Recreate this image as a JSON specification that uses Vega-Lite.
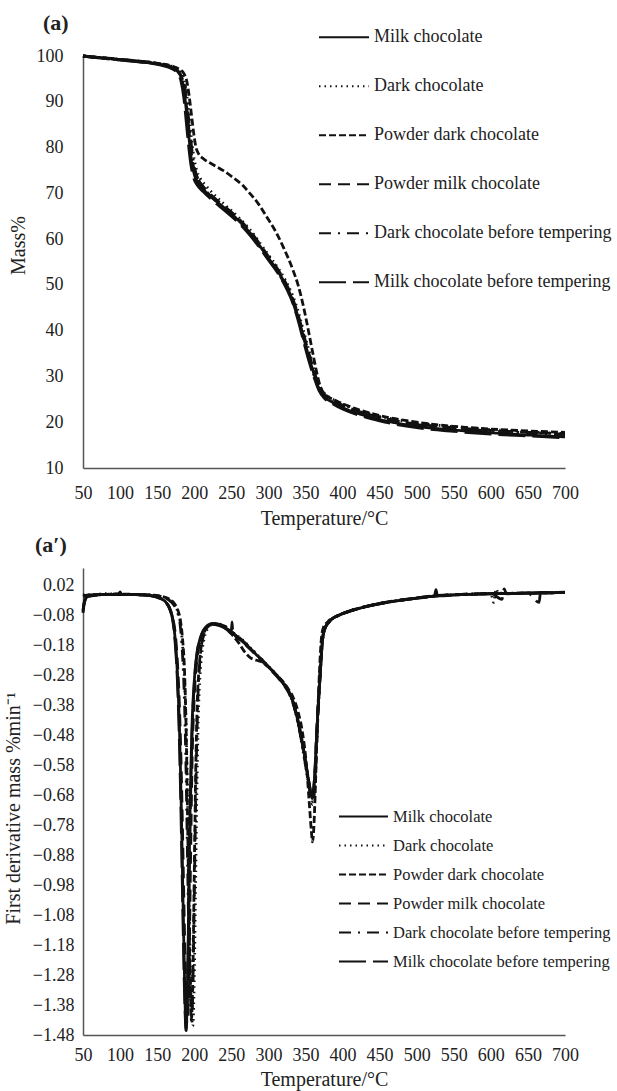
{
"$schema":"https://vega.github.io/schema/vega-lite/v6.json",
"autosize":{"type":"none"},
"padding":{"left":83,"top":56,"right":534,"bottom":1035},
"background":"white",
"bounds":"flush",
"spacing":100,
"config":{
"view":{"stroke":null},
"font":"Liberation Serif",
"axis":{"grid":false,"ticks":false,"tickSize":0,"domainColor":"#555","domainWidth":1.5,"labelFont":"Liberation Serif","labelFontSize":18,"labelColor":"#222","titleFont":"Liberation Serif","titleFontWeight":"normal","titleFontSize":20,"titleColor":"#222","labelFlush":false,"labelOverlap":false},
"legend":{"labelFont":"Liberation Serif","labelColor":"#222","labelLimit":0,"symbolType":"stroke","symbolStrokeColor":"#111","symbolStrokeWidth":2,"padding":0,"rowPadding":0,"title":null},
"title":{"anchor":"start","frame":"group","font":"Liberation Serif","fontSize":22,"fontWeight":"bold","color":"#222","baseline":"middle"}
},
"resolve":{"legend":{"strokeDash":"independent"}},
"datasets":{
"m":[
{"s":"Milk chocolate","t":50,"v":100},{"s":"Milk chocolate","t":70,"v":99.7},{"s":"Milk chocolate","t":100,"v":99.2},{"s":"Milk chocolate","t":130,"v":98.7},{"s":"Milk chocolate","t":155,"v":98.1},{"s":"Milk chocolate","t":170,"v":97.4},{"s":"Milk chocolate","t":178,"v":96.5},{"s":"Milk chocolate","t":183,"v":95.0},{"s":"Milk chocolate","t":187,"v":91.5},{"s":"Milk chocolate","t":190,"v":87.0},{"s":"Milk chocolate","t":193,"v":82.0},{"s":"Milk chocolate","t":196,"v":77.5},{"s":"Milk chocolate","t":200,"v":74.2},{"s":"Milk chocolate","t":205,"v":72.4},{"s":"Milk chocolate","t":212,"v":70.9},{"s":"Milk chocolate","t":225,"v":68.9},{"s":"Milk chocolate","t":240,"v":66.9},{"s":"Milk chocolate","t":255,"v":64.8},{"s":"Milk chocolate","t":275,"v":61.4},{"s":"Milk chocolate","t":298,"v":56.3},{"s":"Milk chocolate","t":315,"v":52.4},{"s":"Milk chocolate","t":325,"v":49.5},{"s":"Milk chocolate","t":333,"v":46.5},{"s":"Milk chocolate","t":340,"v":43.0},{"s":"Milk chocolate","t":347,"v":38.8},{"s":"Milk chocolate","t":355,"v":34.0},{"s":"Milk chocolate","t":362,"v":30.3},{"s":"Milk chocolate","t":368,"v":27.4},{"s":"Milk chocolate","t":375,"v":25.6},{"s":"Milk chocolate","t":385,"v":24.5},{"s":"Milk chocolate","t":400,"v":23.2},{"s":"Milk chocolate","t":425,"v":21.7},{"s":"Milk chocolate","t":450,"v":20.6},{"s":"Milk chocolate","t":500,"v":19.1},{"s":"Milk chocolate","t":550,"v":18.3},{"s":"Milk chocolate","t":600,"v":17.7},{"s":"Milk chocolate","t":650,"v":17.2},{"s":"Milk chocolate","t":700,"v":16.8},
{"s":"Dark chocolate","t":50,"v":100},{"s":"Dark chocolate","t":70,"v":99.7},{"s":"Dark chocolate","t":100,"v":99.3},{"s":"Dark chocolate","t":130,"v":98.8},{"s":"Dark chocolate","t":155,"v":98.3},{"s":"Dark chocolate","t":170,"v":97.7},{"s":"Dark chocolate","t":181,"v":96.7},{"s":"Dark chocolate","t":186,"v":95.0},{"s":"Dark chocolate","t":190,"v":91.5},{"s":"Dark chocolate","t":193,"v":87.0},{"s":"Dark chocolate","t":196,"v":82.5},{"s":"Dark chocolate","t":199,"v":78.5},{"s":"Dark chocolate","t":203,"v":75.2},{"s":"Dark chocolate","t":208,"v":73.3},{"s":"Dark chocolate","t":215,"v":71.8},{"s":"Dark chocolate","t":225,"v":70.0},{"s":"Dark chocolate","t":240,"v":67.7},{"s":"Dark chocolate","t":255,"v":65.5},{"s":"Dark chocolate","t":275,"v":62.1},{"s":"Dark chocolate","t":298,"v":57.0},{"s":"Dark chocolate","t":315,"v":53.2},{"s":"Dark chocolate","t":325,"v":50.4},{"s":"Dark chocolate","t":333,"v":47.6},{"s":"Dark chocolate","t":340,"v":44.3},{"s":"Dark chocolate","t":347,"v":40.2},{"s":"Dark chocolate","t":355,"v":35.5},{"s":"Dark chocolate","t":362,"v":31.5},{"s":"Dark chocolate","t":368,"v":28.3},{"s":"Dark chocolate","t":375,"v":26.4},{"s":"Dark chocolate","t":385,"v":25.2},{"s":"Dark chocolate","t":400,"v":23.9},{"s":"Dark chocolate","t":425,"v":22.4},{"s":"Dark chocolate","t":450,"v":21.3},{"s":"Dark chocolate","t":500,"v":19.9},{"s":"Dark chocolate","t":550,"v":19.0},{"s":"Dark chocolate","t":600,"v":18.4},{"s":"Dark chocolate","t":650,"v":17.9},{"s":"Dark chocolate","t":700,"v":17.5},
{"s":"Powder dark chocolate","t":50,"v":100},{"s":"Powder dark chocolate","t":70,"v":99.7},{"s":"Powder dark chocolate","t":100,"v":99.2},{"s":"Powder dark chocolate","t":130,"v":98.8},{"s":"Powder dark chocolate","t":155,"v":98.3},{"s":"Powder dark chocolate","t":170,"v":97.8},{"s":"Powder dark chocolate","t":180,"v":97.1},{"s":"Powder dark chocolate","t":186,"v":96.2},{"s":"Powder dark chocolate","t":190,"v":94.5},{"s":"Powder dark chocolate","t":193,"v":91.5},{"s":"Powder dark chocolate","t":196,"v":87.5},{"s":"Powder dark chocolate","t":199,"v":83.5},{"s":"Powder dark chocolate","t":202,"v":80.3},{"s":"Powder dark chocolate","t":206,"v":78.6},{"s":"Powder dark chocolate","t":212,"v":77.6},{"s":"Powder dark chocolate","t":225,"v":76.3},{"s":"Powder dark chocolate","t":240,"v":74.9},{"s":"Powder dark chocolate","t":252,"v":73.5},{"s":"Powder dark chocolate","t":265,"v":71.8},{"s":"Powder dark chocolate","t":275,"v":70.0},{"s":"Powder dark chocolate","t":287,"v":67.6},{"s":"Powder dark chocolate","t":298,"v":64.8},{"s":"Powder dark chocolate","t":310,"v":61.6},{"s":"Powder dark chocolate","t":320,"v":58.3},{"s":"Powder dark chocolate","t":333,"v":53.3},{"s":"Powder dark chocolate","t":340,"v":50.0},{"s":"Powder dark chocolate","t":347,"v":45.5},{"s":"Powder dark chocolate","t":354,"v":40.0},{"s":"Powder dark chocolate","t":360,"v":35.0},{"s":"Powder dark chocolate","t":365,"v":31.0},{"s":"Powder dark chocolate","t":370,"v":27.8},{"s":"Powder dark chocolate","t":377,"v":26.0},{"s":"Powder dark chocolate","t":390,"v":24.8},{"s":"Powder dark chocolate","t":410,"v":23.4},{"s":"Powder dark chocolate","t":444,"v":21.7},{"s":"Powder dark chocolate","t":500,"v":20.0},{"s":"Powder dark chocolate","t":550,"v":19.1},{"s":"Powder dark chocolate","t":600,"v":18.5},{"s":"Powder dark chocolate","t":650,"v":18.1},{"s":"Powder dark chocolate","t":700,"v":17.8},
{"s":"Powder milk chocolate","t":50,"v":100},{"s":"Powder milk chocolate","t":70,"v":99.7},{"s":"Powder milk chocolate","t":100,"v":99.3},{"s":"Powder milk chocolate","t":130,"v":98.8},{"s":"Powder milk chocolate","t":155,"v":98.2},{"s":"Powder milk chocolate","t":170,"v":97.5},{"s":"Powder milk chocolate","t":179,"v":96.6},{"s":"Powder milk chocolate","t":184,"v":95.0},{"s":"Powder milk chocolate","t":188,"v":91.5},{"s":"Powder milk chocolate","t":191,"v":87.0},{"s":"Powder milk chocolate","t":194,"v":82.0},{"s":"Powder milk chocolate","t":197,"v":77.7},{"s":"Powder milk chocolate","t":201,"v":74.5},{"s":"Powder milk chocolate","t":206,"v":72.8},{"s":"Powder milk chocolate","t":213,"v":71.3},{"s":"Powder milk chocolate","t":225,"v":69.3},{"s":"Powder milk chocolate","t":240,"v":67.3},{"s":"Powder milk chocolate","t":255,"v":65.2},{"s":"Powder milk chocolate","t":275,"v":61.8},{"s":"Powder milk chocolate","t":298,"v":56.7},{"s":"Powder milk chocolate","t":315,"v":52.8},{"s":"Powder milk chocolate","t":325,"v":49.9},{"s":"Powder milk chocolate","t":333,"v":46.9},{"s":"Powder milk chocolate","t":340,"v":43.5},{"s":"Powder milk chocolate","t":347,"v":39.5},{"s":"Powder milk chocolate","t":355,"v":34.8},{"s":"Powder milk chocolate","t":362,"v":31.0},{"s":"Powder milk chocolate","t":368,"v":28.0},{"s":"Powder milk chocolate","t":375,"v":26.2},{"s":"Powder milk chocolate","t":385,"v":25.0},{"s":"Powder milk chocolate","t":400,"v":23.7},{"s":"Powder milk chocolate","t":425,"v":22.2},{"s":"Powder milk chocolate","t":450,"v":21.1},{"s":"Powder milk chocolate","t":500,"v":19.6},{"s":"Powder milk chocolate","t":550,"v":18.8},{"s":"Powder milk chocolate","t":600,"v":18.2},{"s":"Powder milk chocolate","t":650,"v":17.8},{"s":"Powder milk chocolate","t":700,"v":17.4},
{"s":"Dark chocolate before tempering","t":50,"v":100},{"s":"Dark chocolate before tempering","t":70,"v":99.6},{"s":"Dark chocolate before tempering","t":100,"v":99.2},{"s":"Dark chocolate before tempering","t":130,"v":98.7},{"s":"Dark chocolate before tempering","t":155,"v":98.1},{"s":"Dark chocolate before tempering","t":170,"v":97.5},{"s":"Dark chocolate before tempering","t":180,"v":96.6},{"s":"Dark chocolate before tempering","t":185,"v":95.0},{"s":"Dark chocolate before tempering","t":189,"v":91.5},{"s":"Dark chocolate before tempering","t":192,"v":87.0},{"s":"Dark chocolate before tempering","t":195,"v":82.3},{"s":"Dark chocolate before tempering","t":198,"v":78.0},{"s":"Dark chocolate before tempering","t":202,"v":74.6},{"s":"Dark chocolate before tempering","t":207,"v":72.5},{"s":"Dark chocolate before tempering","t":214,"v":70.9},{"s":"Dark chocolate before tempering","t":225,"v":69.0},{"s":"Dark chocolate before tempering","t":240,"v":66.8},{"s":"Dark chocolate before tempering","t":255,"v":64.6},{"s":"Dark chocolate before tempering","t":275,"v":61.2},{"s":"Dark chocolate before tempering","t":298,"v":56.1},{"s":"Dark chocolate before tempering","t":315,"v":52.2},{"s":"Dark chocolate before tempering","t":325,"v":49.2},{"s":"Dark chocolate before tempering","t":333,"v":46.2},{"s":"Dark chocolate before tempering","t":340,"v":42.7},{"s":"Dark chocolate before tempering","t":347,"v":38.5},{"s":"Dark chocolate before tempering","t":355,"v":33.7},{"s":"Dark chocolate before tempering","t":362,"v":30.0},{"s":"Dark chocolate before tempering","t":368,"v":27.3},{"s":"Dark chocolate before tempering","t":375,"v":25.7},{"s":"Dark chocolate before tempering","t":385,"v":24.7},{"s":"Dark chocolate before tempering","t":400,"v":23.5},{"s":"Dark chocolate before tempering","t":425,"v":22.0},{"s":"Dark chocolate before tempering","t":450,"v":21.0},{"s":"Dark chocolate before tempering","t":500,"v":19.5},{"s":"Dark chocolate before tempering","t":550,"v":18.7},{"s":"Dark chocolate before tempering","t":600,"v":18.1},{"s":"Dark chocolate before tempering","t":650,"v":17.7},{"s":"Dark chocolate before tempering","t":700,"v":17.3},
{"s":"Milk chocolate before tempering","t":50,"v":100},{"s":"Milk chocolate before tempering","t":70,"v":99.6},{"s":"Milk chocolate before tempering","t":100,"v":99.1},{"s":"Milk chocolate before tempering","t":130,"v":98.6},{"s":"Milk chocolate before tempering","t":155,"v":98.0},{"s":"Milk chocolate before tempering","t":170,"v":97.2},{"s":"Milk chocolate before tempering","t":177,"v":96.3},{"s":"Milk chocolate before tempering","t":182,"v":94.6},{"s":"Milk chocolate before tempering","t":186,"v":90.8},{"s":"Milk chocolate before tempering","t":189,"v":86.0},{"s":"Milk chocolate before tempering","t":192,"v":81.0},{"s":"Milk chocolate before tempering","t":195,"v":76.8},{"s":"Milk chocolate before tempering","t":199,"v":73.5},{"s":"Milk chocolate before tempering","t":204,"v":71.8},{"s":"Milk chocolate before tempering","t":212,"v":70.4},{"s":"Milk chocolate before tempering","t":225,"v":68.4},{"s":"Milk chocolate before tempering","t":240,"v":66.4},{"s":"Milk chocolate before tempering","t":255,"v":64.3},{"s":"Milk chocolate before tempering","t":275,"v":60.9},{"s":"Milk chocolate before tempering","t":298,"v":55.9},{"s":"Milk chocolate before tempering","t":315,"v":52.0},{"s":"Milk chocolate before tempering","t":325,"v":49.0},{"s":"Milk chocolate before tempering","t":333,"v":46.0},{"s":"Milk chocolate before tempering","t":340,"v":42.3},{"s":"Milk chocolate before tempering","t":347,"v":38.0},{"s":"Milk chocolate before tempering","t":355,"v":33.2},{"s":"Milk chocolate before tempering","t":362,"v":29.6},{"s":"Milk chocolate before tempering","t":368,"v":27.0},{"s":"Milk chocolate before tempering","t":375,"v":25.3},{"s":"Milk chocolate before tempering","t":385,"v":24.2},{"s":"Milk chocolate before tempering","t":400,"v":22.9},{"s":"Milk chocolate before tempering","t":425,"v":21.4},{"s":"Milk chocolate before tempering","t":450,"v":20.3},{"s":"Milk chocolate before tempering","t":500,"v":18.8},{"s":"Milk chocolate before tempering","t":550,"v":18.0},{"s":"Milk chocolate before tempering","t":600,"v":17.4},{"s":"Milk chocolate before tempering","t":650,"v":17.0},{"s":"Milk chocolate before tempering","t":700,"v":16.6}
],
"d":[
{"s":"Milk chocolate","t":50,"v":-0.065},{"s":"Milk chocolate","t":52,"v":-0.03},{"s":"Milk chocolate","t":56,"v":-0.015},{"s":"Milk chocolate","t":70,"v":-0.01},{"s":"Milk chocolate","t":90,"v":-0.008},{"s":"Milk chocolate","t":110,"v":-0.008},{"s":"Milk chocolate","t":130,"v":-0.01},{"s":"Milk chocolate","t":145,"v":-0.014},{"s":"Milk chocolate","t":155,"v":-0.022},{"s":"Milk chocolate","t":162,"v":-0.035},{"s":"Milk chocolate","t":167,"v":-0.055},{"s":"Milk chocolate","t":171,"v":-0.09},{"s":"Milk chocolate","t":174,"v":-0.15},{"s":"Milk chocolate","t":177,"v":-0.26},{"s":"Milk chocolate","t":180,"v":-0.45},{"s":"Milk chocolate","t":183,"v":-0.78},{"s":"Milk chocolate","t":185,"v":-1.05},{"s":"Milk chocolate","t":187,"v":-1.3},{"s":"Milk chocolate","t":189,"v":-1.465},{"s":"Milk chocolate","t":191,"v":-1.3},{"s":"Milk chocolate","t":193,"v":-0.95},{"s":"Milk chocolate","t":195,"v":-0.65},{"s":"Milk chocolate","t":197,"v":-0.45},{"s":"Milk chocolate","t":200,"v":-0.3},{"s":"Milk chocolate","t":204,"v":-0.2},{"s":"Milk chocolate","t":209,"v":-0.15},{"s":"Milk chocolate","t":216,"v":-0.118},{"s":"Milk chocolate","t":225,"v":-0.107},{"s":"Milk chocolate","t":238,"v":-0.115},{"s":"Milk chocolate","t":252,"v":-0.137},{"s":"Milk chocolate","t":265,"v":-0.165},{"s":"Milk chocolate","t":279,"v":-0.198},{"s":"Milk chocolate","t":290,"v":-0.225},{"s":"Milk chocolate","t":300,"v":-0.25},{"s":"Milk chocolate","t":310,"v":-0.275},{"s":"Milk chocolate","t":320,"v":-0.305},{"s":"Milk chocolate","t":327,"v":-0.33},{"s":"Milk chocolate","t":333,"v":-0.365},{"s":"Milk chocolate","t":340,"v":-0.43},{"s":"Milk chocolate","t":347,"v":-0.52},{"s":"Milk chocolate","t":353,"v":-0.61},{"s":"Milk chocolate","t":357,"v":-0.665},{"s":"Milk chocolate","t":359,"v":-0.68},{"s":"Milk chocolate","t":361,"v":-0.66},{"s":"Milk chocolate","t":363,"v":-0.59},{"s":"Milk chocolate","t":365,"v":-0.48},{"s":"Milk chocolate","t":367,"v":-0.39},{"s":"Milk chocolate","t":369,"v":-0.31},{"s":"Milk chocolate","t":371,"v":-0.23},{"s":"Milk chocolate","t":373,"v":-0.16},{"s":"Milk chocolate","t":376,"v":-0.125},{"s":"Milk chocolate","t":383,"v":-0.097},{"s":"Milk chocolate","t":395,"v":-0.078},{"s":"Milk chocolate","t":410,"v":-0.064},{"s":"Milk chocolate","t":430,"v":-0.05},{"s":"Milk chocolate","t":455,"v":-0.037},{"s":"Milk chocolate","t":490,"v":-0.024},{"s":"Milk chocolate","t":527,"v":-0.013},{"s":"Milk chocolate","t":560,"v":-0.009},{"s":"Milk chocolate","t":600,"v":-0.006},{"s":"Milk chocolate","t":650,"v":-0.004},{"s":"Milk chocolate","t":700,"v":-0.002},
{"s":"Dark chocolate","t":50,"v":-0.01},{"s":"Dark chocolate","t":60,"v":-0.01},{"s":"Dark chocolate","t":80,"v":-0.006},{"s":"Dark chocolate","t":100,"v":-0.008},{"s":"Dark chocolate","t":120,"v":-0.008},{"s":"Dark chocolate","t":140,"v":-0.01},{"s":"Dark chocolate","t":155,"v":-0.015},{"s":"Dark chocolate","t":165,"v":-0.025},{"s":"Dark chocolate","t":172,"v":-0.04},{"s":"Dark chocolate","t":177,"v":-0.06},{"s":"Dark chocolate","t":181,"v":-0.1},{"s":"Dark chocolate","t":184,"v":-0.17},{"s":"Dark chocolate","t":187,"v":-0.3},{"s":"Dark chocolate","t":190,"v":-0.55},{"s":"Dark chocolate","t":192,"v":-0.85},{"s":"Dark chocolate","t":194,"v":-1.15},{"s":"Dark chocolate","t":196,"v":-1.38},{"s":"Dark chocolate","t":198,"v":-1.45},{"s":"Dark chocolate","t":200,"v":-1.3},{"s":"Dark chocolate","t":202,"v":-0.95},{"s":"Dark chocolate","t":204,"v":-0.6},{"s":"Dark chocolate","t":206,"v":-0.38},{"s":"Dark chocolate","t":209,"v":-0.24},{"s":"Dark chocolate","t":213,"v":-0.16},{"s":"Dark chocolate","t":219,"v":-0.12},{"s":"Dark chocolate","t":227,"v":-0.105},{"s":"Dark chocolate","t":240,"v":-0.112},{"s":"Dark chocolate","t":252,"v":-0.135},{"s":"Dark chocolate","t":265,"v":-0.16},{"s":"Dark chocolate","t":279,"v":-0.195},{"s":"Dark chocolate","t":290,"v":-0.222},{"s":"Dark chocolate","t":300,"v":-0.248},{"s":"Dark chocolate","t":310,"v":-0.274},{"s":"Dark chocolate","t":320,"v":-0.303},{"s":"Dark chocolate","t":327,"v":-0.33},{"s":"Dark chocolate","t":333,"v":-0.37},{"s":"Dark chocolate","t":340,"v":-0.44},{"s":"Dark chocolate","t":347,"v":-0.535},{"s":"Dark chocolate","t":353,"v":-0.625},{"s":"Dark chocolate","t":357,"v":-0.68},{"s":"Dark chocolate","t":360,"v":-0.7},{"s":"Dark chocolate","t":362,"v":-0.67},{"s":"Dark chocolate","t":364,"v":-0.58},{"s":"Dark chocolate","t":366,"v":-0.46},{"s":"Dark chocolate","t":368,"v":-0.36},{"s":"Dark chocolate","t":370,"v":-0.27},{"s":"Dark chocolate","t":372,"v":-0.19},{"s":"Dark chocolate","t":375,"v":-0.13},{"s":"Dark chocolate","t":383,"v":-0.098},{"s":"Dark chocolate","t":395,"v":-0.078},{"s":"Dark chocolate","t":410,"v":-0.063},{"s":"Dark chocolate","t":430,"v":-0.05},{"s":"Dark chocolate","t":455,"v":-0.036},{"s":"Dark chocolate","t":490,"v":-0.023},{"s":"Dark chocolate","t":527,"v":-0.013},{"s":"Dark chocolate","t":560,"v":-0.008},{"s":"Dark chocolate","t":600,"v":-0.005},{"s":"Dark chocolate","t":604,"v":-0.035},{"s":"Dark chocolate","t":607,"v":0.01},{"s":"Dark chocolate","t":610,"v":-0.004},{"s":"Dark chocolate","t":650,"v":-0.004},{"s":"Dark chocolate","t":700,"v":-0.001},
{"s":"Powder dark chocolate","t":50,"v":-0.012},{"s":"Powder dark chocolate","t":60,"v":-0.01},{"s":"Powder dark chocolate","t":80,"v":-0.008},{"s":"Powder dark chocolate","t":100,"v":-0.007},{"s":"Powder dark chocolate","t":120,"v":-0.008},{"s":"Powder dark chocolate","t":140,"v":-0.01},{"s":"Powder dark chocolate","t":155,"v":-0.014},{"s":"Powder dark chocolate","t":165,"v":-0.022},{"s":"Powder dark chocolate","t":172,"v":-0.035},{"s":"Powder dark chocolate","t":177,"v":-0.055},{"s":"Powder dark chocolate","t":181,"v":-0.09},{"s":"Powder dark chocolate","t":184,"v":-0.15},{"s":"Powder dark chocolate","t":187,"v":-0.27},{"s":"Powder dark chocolate","t":189,"v":-0.45},{"s":"Powder dark chocolate","t":191,"v":-0.75},{"s":"Powder dark chocolate","t":193,"v":-1.1},{"s":"Powder dark chocolate","t":195,"v":-1.35},{"s":"Powder dark chocolate","t":196,"v":-1.43},{"s":"Powder dark chocolate","t":198,"v":-1.3},{"s":"Powder dark chocolate","t":200,"v":-0.95},{"s":"Powder dark chocolate","t":202,"v":-0.6},{"s":"Powder dark chocolate","t":204,"v":-0.38},{"s":"Powder dark chocolate","t":207,"v":-0.24},{"s":"Powder dark chocolate","t":211,"v":-0.16},{"s":"Powder dark chocolate","t":217,"v":-0.12},{"s":"Powder dark chocolate","t":225,"v":-0.108},{"s":"Powder dark chocolate","t":238,"v":-0.115},{"s":"Powder dark chocolate","t":250,"v":-0.14},{"s":"Powder dark chocolate","t":260,"v":-0.17},{"s":"Powder dark chocolate","t":268,"v":-0.2},{"s":"Powder dark chocolate","t":276,"v":-0.22},{"s":"Powder dark chocolate","t":284,"v":-0.228},{"s":"Powder dark chocolate","t":292,"v":-0.235},{"s":"Powder dark chocolate","t":300,"v":-0.25},{"s":"Powder dark chocolate","t":310,"v":-0.275},{"s":"Powder dark chocolate","t":320,"v":-0.3},{"s":"Powder dark chocolate","t":327,"v":-0.325},{"s":"Powder dark chocolate","t":333,"v":-0.35},{"s":"Powder dark chocolate","t":340,"v":-0.4},{"s":"Powder dark chocolate","t":346,"v":-0.47},{"s":"Powder dark chocolate","t":351,"v":-0.57},{"s":"Powder dark chocolate","t":355,"v":-0.7},{"s":"Powder dark chocolate","t":358,"v":-0.8},{"s":"Powder dark chocolate","t":359.5,"v":-0.835},{"s":"Powder dark chocolate","t":361,"v":-0.8},{"s":"Powder dark chocolate","t":363,"v":-0.68},{"s":"Powder dark chocolate","t":365,"v":-0.52},{"s":"Powder dark chocolate","t":367,"v":-0.38},{"s":"Powder dark chocolate","t":369,"v":-0.26},{"s":"Powder dark chocolate","t":371,"v":-0.17},{"s":"Powder dark chocolate","t":374,"v":-0.12},{"s":"Powder dark chocolate","t":380,"v":-0.1},{"s":"Powder dark chocolate","t":395,"v":-0.078},{"s":"Powder dark chocolate","t":410,"v":-0.064},{"s":"Powder dark chocolate","t":430,"v":-0.05},{"s":"Powder dark chocolate","t":455,"v":-0.037},{"s":"Powder dark chocolate","t":490,"v":-0.024},{"s":"Powder dark chocolate","t":527,"v":-0.013},{"s":"Powder dark chocolate","t":560,"v":-0.009},{"s":"Powder dark chocolate","t":600,"v":-0.006},{"s":"Powder dark chocolate","t":650,"v":-0.004},{"s":"Powder dark chocolate","t":700,"v":-0.002},
{"s":"Powder milk chocolate","t":50,"v":-0.06},{"s":"Powder milk chocolate","t":53,"v":-0.025},{"s":"Powder milk chocolate","t":58,"v":-0.012},{"s":"Powder milk chocolate","t":80,"v":-0.008},{"s":"Powder milk chocolate","t":100,"v":-0.009},{"s":"Powder milk chocolate","t":120,"v":-0.009},{"s":"Powder milk chocolate","t":140,"v":-0.012},{"s":"Powder milk chocolate","t":152,"v":-0.02},{"s":"Powder milk chocolate","t":160,"v":-0.032},{"s":"Powder milk chocolate","t":166,"v":-0.05},{"s":"Powder milk chocolate","t":170,"v":-0.08},{"s":"Powder milk chocolate","t":174,"v":-0.13},{"s":"Powder milk chocolate","t":177,"v":-0.22},{"s":"Powder milk chocolate","t":180,"v":-0.38},{"s":"Powder milk chocolate","t":183,"v":-0.65},{"s":"Powder milk chocolate","t":185,"v":-0.9},{"s":"Powder milk chocolate","t":187,"v":-1.15},{"s":"Powder milk chocolate","t":189,"v":-1.35},{"s":"Powder milk chocolate","t":191,"v":-1.42},{"s":"Powder milk chocolate","t":193,"v":-1.25},{"s":"Powder milk chocolate","t":195,"v":-0.9},{"s":"Powder milk chocolate","t":197,"v":-0.58},{"s":"Powder milk chocolate","t":200,"v":-0.35},{"s":"Powder milk chocolate","t":204,"v":-0.22},{"s":"Powder milk chocolate","t":209,"v":-0.155},{"s":"Powder milk chocolate","t":216,"v":-0.12},{"s":"Powder milk chocolate","t":225,"v":-0.108},{"s":"Powder milk chocolate","t":238,"v":-0.116},{"s":"Powder milk chocolate","t":252,"v":-0.138},{"s":"Powder milk chocolate","t":265,"v":-0.166},{"s":"Powder milk chocolate","t":279,"v":-0.2},{"s":"Powder milk chocolate","t":290,"v":-0.227},{"s":"Powder milk chocolate","t":300,"v":-0.252},{"s":"Powder milk chocolate","t":310,"v":-0.278},{"s":"Powder milk chocolate","t":320,"v":-0.308},{"s":"Powder milk chocolate","t":327,"v":-0.335},{"s":"Powder milk chocolate","t":333,"v":-0.37},{"s":"Powder milk chocolate","t":340,"v":-0.435},{"s":"Powder milk chocolate","t":347,"v":-0.525},{"s":"Powder milk chocolate","t":353,"v":-0.615},{"s":"Powder milk chocolate","t":357,"v":-0.665},{"s":"Powder milk chocolate","t":359,"v":-0.675},{"s":"Powder milk chocolate","t":361,"v":-0.655},{"s":"Powder milk chocolate","t":363,"v":-0.585},{"s":"Powder milk chocolate","t":365,"v":-0.47},{"s":"Powder milk chocolate","t":367,"v":-0.38},{"s":"Powder milk chocolate","t":369,"v":-0.3},{"s":"Powder milk chocolate","t":371,"v":-0.22},{"s":"Powder milk chocolate","t":373,"v":-0.155},{"s":"Powder milk chocolate","t":376,"v":-0.122},{"s":"Powder milk chocolate","t":383,"v":-0.096},{"s":"Powder milk chocolate","t":395,"v":-0.077},{"s":"Powder milk chocolate","t":410,"v":-0.063},{"s":"Powder milk chocolate","t":430,"v":-0.049},{"s":"Powder milk chocolate","t":455,"v":-0.036},{"s":"Powder milk chocolate","t":490,"v":-0.023},{"s":"Powder milk chocolate","t":527,"v":-0.012},{"s":"Powder milk chocolate","t":560,"v":-0.008},{"s":"Powder milk chocolate","t":600,"v":-0.005},{"s":"Powder milk chocolate","t":615,"v":-0.025},{"s":"Powder milk chocolate","t":618,"v":0.01},{"s":"Powder milk chocolate","t":621,"v":-0.006},{"s":"Powder milk chocolate","t":650,"v":-0.003},{"s":"Powder milk chocolate","t":700,"v":-0.001},
{"s":"Dark chocolate before tempering","t":50,"v":-0.015},{"s":"Dark chocolate before tempering","t":60,"v":-0.01},{"s":"Dark chocolate before tempering","t":80,"v":-0.008},{"s":"Dark chocolate before tempering","t":100,"v":-0.008},{"s":"Dark chocolate before tempering","t":120,"v":-0.009},{"s":"Dark chocolate before tempering","t":140,"v":-0.011},{"s":"Dark chocolate before tempering","t":155,"v":-0.016},{"s":"Dark chocolate before tempering","t":165,"v":-0.026},{"s":"Dark chocolate before tempering","t":172,"v":-0.042},{"s":"Dark chocolate before tempering","t":177,"v":-0.065},{"s":"Dark chocolate before tempering","t":181,"v":-0.11},{"s":"Dark chocolate before tempering","t":184,"v":-0.2},{"s":"Dark chocolate before tempering","t":187,"v":-0.38},{"s":"Dark chocolate before tempering","t":189,"v":-0.6},{"s":"Dark chocolate before tempering","t":191,"v":-0.9},{"s":"Dark chocolate before tempering","t":193,"v":-1.18},{"s":"Dark chocolate before tempering","t":195,"v":-1.36},{"s":"Dark chocolate before tempering","t":197,"v":-1.4},{"s":"Dark chocolate before tempering","t":199,"v":-1.2},{"s":"Dark chocolate before tempering","t":201,"v":-0.85},{"s":"Dark chocolate before tempering","t":203,"v":-0.55},{"s":"Dark chocolate before tempering","t":205,"v":-0.35},{"s":"Dark chocolate before tempering","t":208,"v":-0.22},{"s":"Dark chocolate before tempering","t":212,"v":-0.15},{"s":"Dark chocolate before tempering","t":218,"v":-0.118},{"s":"Dark chocolate before tempering","t":226,"v":-0.106},{"s":"Dark chocolate before tempering","t":240,"v":-0.113},{"s":"Dark chocolate before tempering","t":252,"v":-0.136},{"s":"Dark chocolate before tempering","t":265,"v":-0.162},{"s":"Dark chocolate before tempering","t":279,"v":-0.196},{"s":"Dark chocolate before tempering","t":290,"v":-0.224},{"s":"Dark chocolate before tempering","t":300,"v":-0.25},{"s":"Dark chocolate before tempering","t":310,"v":-0.277},{"s":"Dark chocolate before tempering","t":320,"v":-0.306},{"s":"Dark chocolate before tempering","t":327,"v":-0.333},{"s":"Dark chocolate before tempering","t":333,"v":-0.368},{"s":"Dark chocolate before tempering","t":340,"v":-0.438},{"s":"Dark chocolate before tempering","t":347,"v":-0.53},{"s":"Dark chocolate before tempering","t":353,"v":-0.62},{"s":"Dark chocolate before tempering","t":357,"v":-0.68},{"s":"Dark chocolate before tempering","t":359.5,"v":-0.71},{"s":"Dark chocolate before tempering","t":362,"v":-0.67},{"s":"Dark chocolate before tempering","t":364,"v":-0.58},{"s":"Dark chocolate before tempering","t":366,"v":-0.46},{"s":"Dark chocolate before tempering","t":368,"v":-0.36},{"s":"Dark chocolate before tempering","t":370,"v":-0.27},{"s":"Dark chocolate before tempering","t":372,"v":-0.19},{"s":"Dark chocolate before tempering","t":375,"v":-0.13},{"s":"Dark chocolate before tempering","t":383,"v":-0.097},{"s":"Dark chocolate before tempering","t":395,"v":-0.077},{"s":"Dark chocolate before tempering","t":410,"v":-0.064},{"s":"Dark chocolate before tempering","t":430,"v":-0.05},{"s":"Dark chocolate before tempering","t":455,"v":-0.036},{"s":"Dark chocolate before tempering","t":490,"v":-0.024},{"s":"Dark chocolate before tempering","t":527,"v":-0.013},{"s":"Dark chocolate before tempering","t":560,"v":-0.008},{"s":"Dark chocolate before tempering","t":600,"v":-0.006},{"s":"Dark chocolate before tempering","t":650,"v":-0.004},{"s":"Dark chocolate before tempering","t":665,"v":-0.035},{"s":"Dark chocolate before tempering","t":667,"v":-0.003},{"s":"Dark chocolate before tempering","t":700,"v":-0.002},
{"s":"Milk chocolate before tempering","t":50,"v":-0.07},{"s":"Milk chocolate before tempering","t":52,"v":-0.035},{"s":"Milk chocolate before tempering","t":56,"v":-0.016},{"s":"Milk chocolate before tempering","t":70,"v":-0.01},{"s":"Milk chocolate before tempering","t":90,"v":-0.008},{"s":"Milk chocolate before tempering","t":98,"v":-0.006},{"s":"Milk chocolate before tempering","t":100,"v":0.0},{"s":"Milk chocolate before tempering","t":102,"v":-0.008},{"s":"Milk chocolate before tempering","t":130,"v":-0.01},{"s":"Milk chocolate before tempering","t":145,"v":-0.014},{"s":"Milk chocolate before tempering","t":155,"v":-0.022},{"s":"Milk chocolate before tempering","t":162,"v":-0.036},{"s":"Milk chocolate before tempering","t":167,"v":-0.058},{"s":"Milk chocolate before tempering","t":171,"v":-0.095},{"s":"Milk chocolate before tempering","t":174,"v":-0.16},{"s":"Milk chocolate before tempering","t":177,"v":-0.28},{"s":"Milk chocolate before tempering","t":180,"v":-0.5},{"s":"Milk chocolate before tempering","t":183,"v":-0.85},{"s":"Milk chocolate before tempering","t":185,"v":-1.12},{"s":"Milk chocolate before tempering","t":187,"v":-1.35},{"s":"Milk chocolate before tempering","t":189,"v":-1.46},{"s":"Milk chocolate before tempering","t":191,"v":-1.35},{"s":"Milk chocolate before tempering","t":193,"v":-1.0},{"s":"Milk chocolate before tempering","t":195,"v":-0.7},{"s":"Milk chocolate before tempering","t":197,"v":-0.48},{"s":"Milk chocolate before tempering","t":200,"v":-0.31},{"s":"Milk chocolate before tempering","t":204,"v":-0.2},{"s":"Milk chocolate before tempering","t":209,"v":-0.148},{"s":"Milk chocolate before tempering","t":216,"v":-0.116},{"s":"Milk chocolate before tempering","t":225,"v":-0.105},{"s":"Milk chocolate before tempering","t":238,"v":-0.114},{"s":"Milk chocolate before tempering","t":250,"v":-0.134},{"s":"Milk chocolate before tempering","t":251,"v":-0.1},{"s":"Milk chocolate before tempering","t":252,"v":-0.136},{"s":"Milk chocolate before tempering","t":265,"v":-0.164},{"s":"Milk chocolate before tempering","t":279,"v":-0.197},{"s":"Milk chocolate before tempering","t":290,"v":-0.224},{"s":"Milk chocolate before tempering","t":300,"v":-0.25},{"s":"Milk chocolate before tempering","t":310,"v":-0.276},{"s":"Milk chocolate before tempering","t":320,"v":-0.306},{"s":"Milk chocolate before tempering","t":327,"v":-0.33},{"s":"Milk chocolate before tempering","t":333,"v":-0.366},{"s":"Milk chocolate before tempering","t":340,"v":-0.432},{"s":"Milk chocolate before tempering","t":347,"v":-0.52},{"s":"Milk chocolate before tempering","t":353,"v":-0.61},{"s":"Milk chocolate before tempering","t":357,"v":-0.67},{"s":"Milk chocolate before tempering","t":359,"v":-0.69},{"s":"Milk chocolate before tempering","t":361,"v":-0.67},{"s":"Milk chocolate before tempering","t":363,"v":-0.6},{"s":"Milk chocolate before tempering","t":365,"v":-0.49},{"s":"Milk chocolate before tempering","t":367,"v":-0.39},{"s":"Milk chocolate before tempering","t":369,"v":-0.31},{"s":"Milk chocolate before tempering","t":371,"v":-0.23},{"s":"Milk chocolate before tempering","t":373,"v":-0.16},{"s":"Milk chocolate before tempering","t":376,"v":-0.124},{"s":"Milk chocolate before tempering","t":383,"v":-0.097},{"s":"Milk chocolate before tempering","t":395,"v":-0.078},{"s":"Milk chocolate before tempering","t":410,"v":-0.064},{"s":"Milk chocolate before tempering","t":430,"v":-0.05},{"s":"Milk chocolate before tempering","t":455,"v":-0.037},{"s":"Milk chocolate before tempering","t":490,"v":-0.024},{"s":"Milk chocolate before tempering","t":524,"v":-0.013},{"s":"Milk chocolate before tempering","t":526,"v":0.008},{"s":"Milk chocolate before tempering","t":528,"v":-0.013},{"s":"Milk chocolate before tempering","t":560,"v":-0.009},{"s":"Milk chocolate before tempering","t":600,"v":-0.006},{"s":"Milk chocolate before tempering","t":650,"v":-0.004},{"s":"Milk chocolate before tempering","t":700,"v":-0.002}
]
},
"vconcat":[
{
"title":{"text":"(a)","dx":-40,"offset":-22},
"width":482,"height":412,
"data":{"name":"m"},
"mark":{"type":"line","strokeWidth":2.8,"color":"#111","interpolate":"monotone"},
"encoding":{
"x":{"field":"t","type":"quantitative","scale":{"domain":[50,700],"nice":false,"zero":false},"axis":{"values":[50,100,150,200,250,300,350,400,450,500,550,600,650,700],"title":"Temperature/°C","labelFont":"Liberation Serif","labelPadding":16,"titleY":50,"titleBaseline":"middle"}},
"y":{"field":"v","type":"quantitative","scale":{"domain":[10,100],"nice":false,"zero":false},"axis":{"values":[10,20,30,40,50,60,70,80,90,100],"title":"Mass%","labelFont":"Liberation Serif","labelPadding":20,"titleX":-65,"titleY":189,"titleBaseline":"middle"}},
"strokeDash":{"field":"s","type":"nominal","sort":null,"scale":{"domain":["Milk chocolate","Dark chocolate","Powder dark chocolate","Powder milk chocolate","Dark chocolate before tempering","Milk chocolate before tempering"],"range":[[1,0],[1.5,4],[7,3],[12,7],[12,7,2,7],[27,7]]},"legend":{"orient":"none","legendX":235,"legendY":-43,"symbolSize":2500,"clipHeight":48.5,"labelFontSize":18,"labelOffset":4,"labelLimit":0,"labelFont":"Liberation Serif"}}
}
},
{
"title":{"text":"(a′)","dx":-48,"offset":11},
"width":482,"height":467,
"data":{"name":"d"},
"mark":{"type":"line","strokeWidth":2.8,"color":"#111","interpolate":"monotone"},
"encoding":{
"x":{"field":"t","type":"quantitative","scale":{"domain":[50,700],"nice":false,"zero":false},"axis":{"values":[50,100,150,200,250,300,350,400,450,500,550,600,650,700],"title":"Temperature/°C","labelFont":"Liberation Serif","labelPadding":11,"titleY":44,"titleBaseline":"middle"}},
"y":{"field":"v","type":"quantitative","scale":{"domain":[-1.48,0.08],"nice":false,"zero":false},"axis":{"values":[0.02,-0.08,-0.18,-0.28,-0.38,-0.48,-0.58,-0.68,-0.78,-0.88,-0.98,-1.08,-1.18,-1.28,-1.38,-1.48],"format":".2f","title":"First derivative mass %min⁻¹","labelFont":"Liberation Serif","labelPadding":9,"titleX":-70,"titleY":240,"titleBaseline":"middle"}},
"strokeDash":{"field":"s","type":"nominal","sort":null,"scale":{"domain":["Milk chocolate","Dark chocolate","Powder dark chocolate","Powder milk chocolate","Dark chocolate before tempering","Milk chocolate before tempering"],"range":[[1,0],[1.5,4],[7,3],[12,7],[12,7,2,7],[27,7]]},"legend":{"orient":"none","legendX":255,"legendY":234,"symbolSize":2401,"clipHeight":29,"labelFontSize":16.5,"labelOffset":4,"labelLimit":0,"labelFont":"Liberation Serif"}}
}
}
]
}
